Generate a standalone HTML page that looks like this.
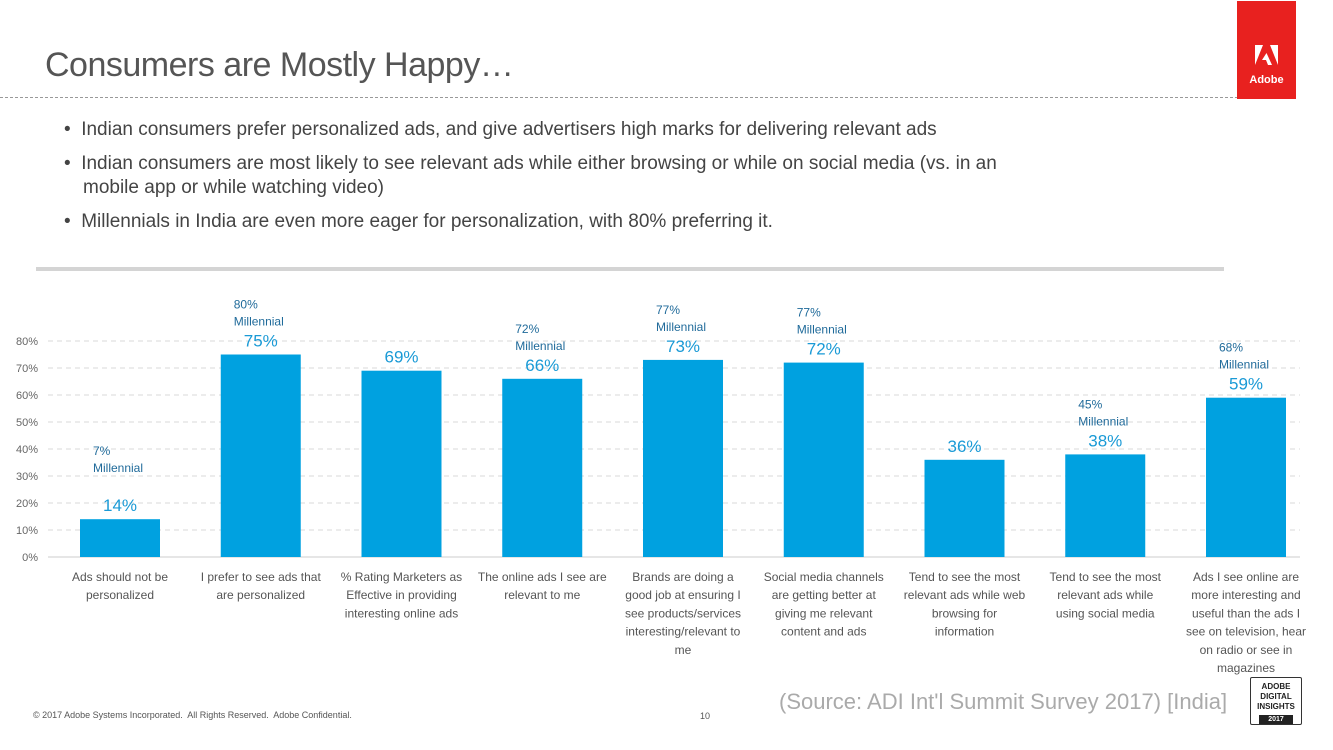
<!DOCTYPE html>
<html><head><meta charset="utf-8"><style>
body{margin:0;width:1333px;height:750px;overflow:hidden;background:#fff;font-family:"Liberation Sans",sans-serif;position:relative}
.abs{position:absolute}
</style></head><body>
<div class="abs" style="left:45px;top:46px;font-size:34px;color:#555;letter-spacing:-0.5px">Consumers are Mostly Happy…</div>
<div class="abs" style="left:0;top:97px;width:1238px;border-top:1px dashed #999"></div>
<div class="abs" style="left:1237px;top:1px;width:59px;height:98px;background:#e8211f">
<svg width="59" height="98"><polygon points="18,44 26,44 18,64" fill="#fff"/><polygon points="33,44 41,44 41,64" fill="#fff"/><polygon points="29.5,52 35,64 31,64 29,59 25,59" fill="#fff"/><text x="29.5" y="82" text-anchor="middle" font-size="11" font-weight="bold" fill="#fff" font-family="Liberation Sans">Adobe</text></svg></div>
<div class="abs" style="left:64px;top:118px;font-size:19px;color:#444;line-height:24px;width:980px">
<div style="margin-bottom:10px">•&nbsp; Indian consumers prefer personalized ads, and give advertisers high marks for delivering relevant ads</div>
<div style="margin-bottom:10px;padding-left:19px;text-indent:-19px">•&nbsp; Indian consumers are most likely to see relevant ads while either browsing or while on social media (vs. in an mobile app or while watching video)</div>
<div>•&nbsp; Millennials in India are even more eager for personalization, with 80% preferring it.</div>
</div>
<div class="abs" style="left:36px;top:267px;width:1188px;height:4px;background:#d4d4d4"></div>
<svg class="abs" id="chart" style="left:0;top:0" width="1333" height="750"></svg>
<div class="abs" style="left:33px;top:710px;font-size:9px;color:#555">© 2017 Adobe Systems Incorporated.&nbsp; All Rights Reserved.&nbsp; Adobe Confidential.</div>
<div class="abs" style="left:700px;top:711px;font-size:9px;color:#555">10</div>
<div class="abs" style="left:779px;top:689px;font-size:22px;color:#aaa">(Source: ADI Int'l Summit Survey 2017) [India]</div>
<div class="abs" style="left:1250px;top:677px;width:50px;height:46px;border:1px solid #333;border-radius:2px;font-size:8px;font-weight:bold;line-height:10px;text-align:center;color:#222;background:#fff">
<div style="padding-top:4px">ADOBE<br>DIGITAL<br>INSIGHTS</div><div style="background:#222;color:#fff;margin:3px 8px 0;font-size:7px;line-height:9px">2017</div></div>
<script>
const categories=[["Ads should not be","personalized"],["I prefer to see ads that","are personalized"],["% Rating Marketers as","Effective in providing","interesting online ads"],["The online ads I see are","relevant to me"],["Brands are doing a","good job at ensuring I","see products/services","interesting/relevant to","me"],["Social media channels","are getting better at","giving me relevant","content and ads"],["Tend to see the most","relevant ads while web","browsing for","information"],["Tend to see the most","relevant ads while","using social media"],["Ads I see online are","more interesting and","useful than the ads I","see on television, hear","on radio or see in","magazines"]];
const values=[14,75,69,66,73,72,36,38,59];
const millennial=[7,80,null,72,77,77,null,45,68];
const ticks=[0,10,20,30,40,50,60,70,80];
const NS="http://www.w3.org/2000/svg",svg=document.getElementById('chart');
const y=v=>557-v*2.7, x=i=>120+i*140.75;
function mk(t,a,txt){const e=document.createElementNS(NS,t);for(const k in a)e.setAttribute(k,a[k]);if(txt!=null)e.textContent=txt;svg.appendChild(e);return e;}
ticks.forEach(t=>{
 const l=mk('line',{x1:48,x2:1300,y1:y(t),y2:y(t),stroke:t?'#d8d8d8':'#ccc','stroke-dasharray':t?'5,4':''});
 
 
 const tx=mk('text',{x:38,y:y(t)+4,'text-anchor':'end','font-size':11,fill:'#666','font-family':'Liberation Sans'},t+'%');
 
 
});
values.forEach((v,i)=>{
 const r=mk('rect',{x:x(i)-40,y:y(v),width:80,height:v*2.7,fill:'#00a1e0'});
 
 
 const vl=mk('text',{x:x(i),y:y(v)-8,'text-anchor':'middle','font-size':17,fill:'#1a9ad6','font-family':'Liberation Sans'},v+'%');
 
 
 if(millennial[i]!=null){
  const off=i===0?18:0;
  const m1=mk('text',{x:x(i)-27,y:y(v)-46-off,'font-size':12,fill:'#1f6a9a','font-family':'Liberation Sans'},millennial[i]+'%');
  
  
  const m2=mk('text',{x:x(i)-27,y:y(v)-29-off,'font-size':12,fill:'#1f6a9a','font-family':'Liberation Sans'},'Millennial');
  
  
 }
 categories[i].forEach((ln,j)=>{
  const c=mk('text',{x:x(i),y:581+j*18.2,'text-anchor':'middle','font-size':12,fill:'#555','font-family':'Liberation Sans'},ln);
  
  
 });
});
</script>
</body></html>
